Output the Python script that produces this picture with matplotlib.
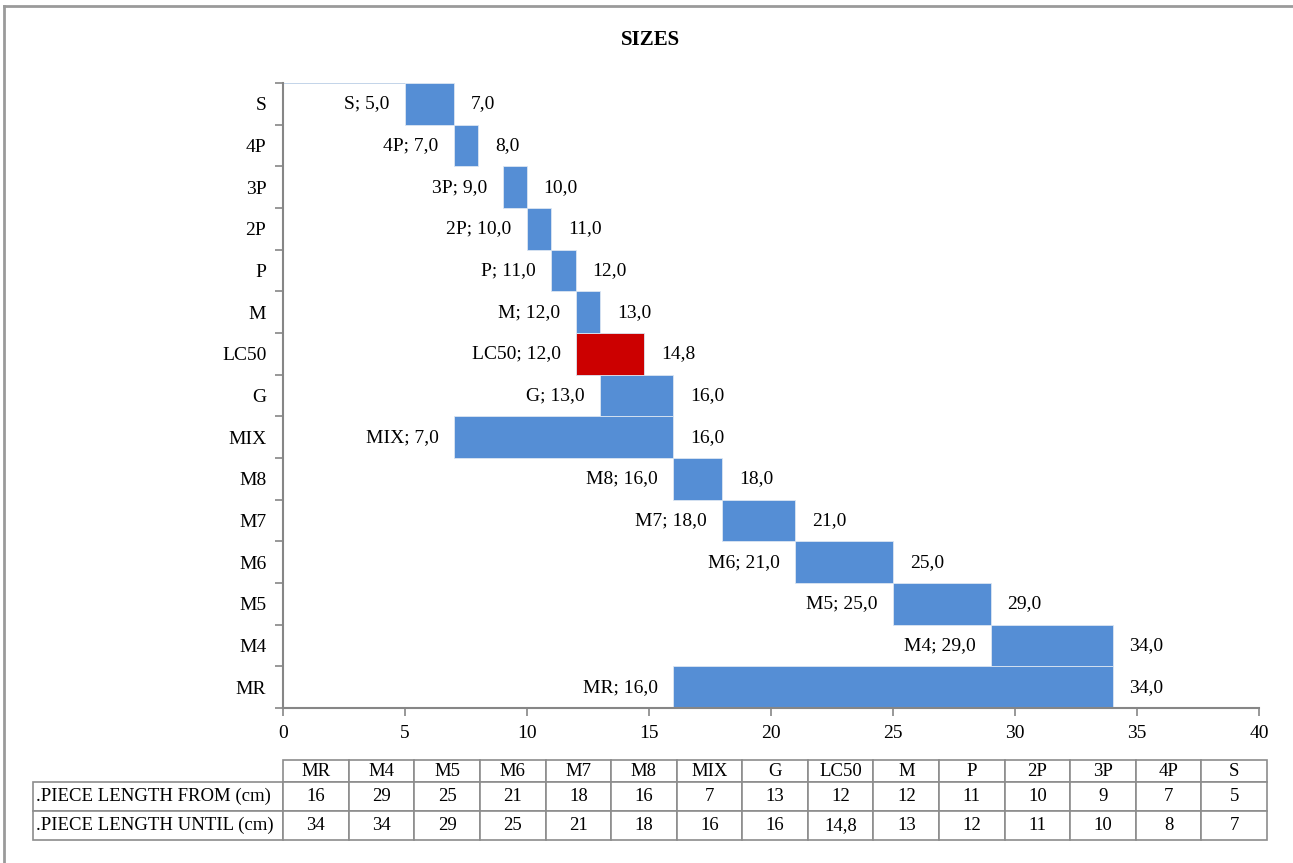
import matplotlib.pyplot as plt
from matplotlib.lines import Line2D

# Size classes, bottom row first
sizes = ["MR", "M4", "M5", "M6", "M7", "M8", "MIX", "G", "LC50", "M", "P", "2P", "3P", "4P", "S"]
length_from = [16, 29, 25, 21, 18, 16, 7, 13, 12, 12, 11, 10, 9, 7, 5]
length_until = [34, 34, 29, 25, 21, 18, 16, 16, 14.8, 13, 12, 11, 10, 8, 7]
table_until = ["34", "34", "29", "25", "21", "18", "16", "16", "14,8", "13", "12", "11", "10", "8", "7"]
row_names = [".PIECE LENGTH FROM (cm)", ".PIECE LENGTH UNTIL (cm)"]
highlight = "LC50"

BLUE = "#558ed5"
RED = "#cc0000"
GREY = "#868686"

plt.rcParams["font.family"] = ["Liberation Serif", "DejaVu Serif"]
plt.rcParams["font.size"] = 14

fig = plt.figure(figsize=(12.93, 8.63), dpi=100)
ax = fig.add_axes([0.2189, 0.1796, 0.7548, 0.7242])

ypos = list(range(len(sizes)))
widths = [u - f for f, u in zip(length_from, length_until)]
colors = [RED if s == highlight else BLUE for s in sizes]

# invisible base bar + visible span bar
ax.barh(ypos, length_from, height=1.0, color="white", edgecolor="white", linewidth=0.8)
ax.barh(ypos, widths, left=length_from, height=1.0, color=colors,
        edgecolor="#dce6f2", linewidth=0.6)
ax.hlines(ypos[-1] + 0.5, 0, length_from[-1], color="#b9cde5", linewidth=1.2)

fmt = lambda v: f"{v:.1f}".replace(".", ",")
for y, s, f, u in zip(ypos, sizes, length_from, length_until):
    ax.annotate(f"{s}; {fmt(f)}", (f, y), xytext=(-11, 0), textcoords="offset points",
                ha="right", va="center")
    ax.annotate(fmt(u), (u, y), xytext=(12, 0), textcoords="offset points",
                ha="left", va="center")

ax.set_xlim(0, 40)
ax.set_ylim(-0.5, len(sizes) - 0.5)
ax.set_xticks(range(0, 41, 5))
ax.set_yticks(ypos)
ax.set_yticklabels(sizes)
ax.set_yticks([y - 0.5 for y in ypos] + [ypos[-1] + 0.5], minor=True)
ax.tick_params(axis="y", which="major", length=0, pad=12)
ax.tick_params(axis="y", which="minor", length=6, width=1.2, color=GREY)
ax.tick_params(axis="x", length=6, width=1.2, color=GREY, pad=6)
for side in ("top", "right"):
    ax.spines[side].set_visible(False)
for side in ("left", "bottom"):
    ax.spines[side].set_color(GREY)
    ax.spines[side].set_linewidth(1.5)

fig.text(0.503, 0.9537, "SIZES", ha="center", va="center", fontsize=15, fontweight="bold")

# data table below the chart, columns in bar order
cells = [[str(v) for v in length_from], table_until]
tab = ax.table(cellText=cells, rowLabels=row_names, colLabels=sizes, cellLoc="center",
               bbox=[-0.002, -0.2112, 1.0082, 0.128])
tab._autoColumns = []  # fixed width for the row label column
tab.auto_set_font_size(False)
tab.set_fontsize(13.5)
for (r, c), cell in tab.get_celld().items():
    cell.set_edgecolor("#8c8c8c")
    cell.set_linewidth(1.2)
    cell.set_height(0.22 if r == 0 else 0.29)
    if c == -1:
        cell.set_width(0.254)
        cell.PAD = 0.01
    else:
        cell.set_width(1 / 15)

# outer frame
fig.add_artist(Line2D([0.003, 1.0], [0.9935, 0.9935], color="#9a9a9a", lw=2, transform=fig.transFigure))
fig.add_artist(Line2D([0.003, 0.003], [0.0, 0.9935], color="#9a9a9a", lw=2, transform=fig.transFigure))

fig.savefig("out.png", dpi=100)
